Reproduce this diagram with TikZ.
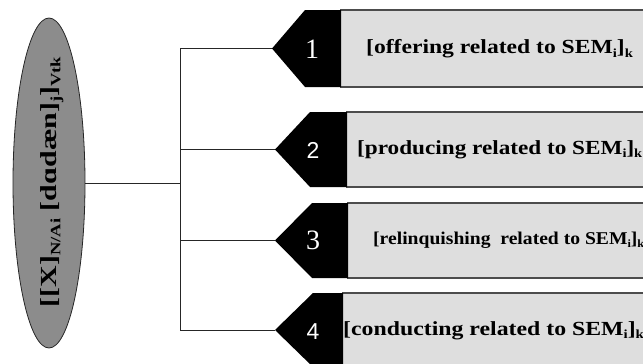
\documentclass[tikz,border=0pt]{standalone}
\usepackage{fontspec}
\usepackage{graphicx}
\setmainfont{Liberation Serif}
\newfontfamily\numsans{Liberation Sans}
\usetikzlibrary{shapes.geometric}
\newcommand{\lowsub}[1]{\raisebox{-0.35ex}{\scalebox{0.62}{#1}}}
\begin{document}
\begin{tikzpicture}[x=1pt,y=-1pt,
  conn/.style={draw=black!85, line width=1pt},
  boxfill/.style={fill=black!13},
  boxedge/.style={draw=black!70, line width=1.6pt},
  tag/.style={fill=black},
  numlbl/.style={text=white, inner sep=0pt},
  boxlbl/.style={anchor=west, inner sep=0pt, font=\bfseries}]
\useasboundingbox (0,0) rectangle (643,364);
\clip (0,0) rectangle (643,364);
\fill[white] (0,0) rectangle (643,364);

% root ellipse
\node[ellipse, draw=black!85, line width=0.8pt, fill=black!45, minimum width=72pt, minimum height=330pt, inner sep=0pt] (root) at (49,183) {};
\node[rotate=90, inner sep=0pt, font=\bfseries\fontsize{23}{23}\selectfont] (rootlbl) at (52,182) {\scalebox{1.3}[1]{[[X]\lowsub{N/Ai} [dɑdæn]\lowsub{j}]\lowsub{Vtk}}};

% boxes
\foreach \i/\ya/\yb/\tip/\cor/\blk in {1/10/87/272/305/340, 2/112/187/275/310/346, 3/203/278/275/312/347, 4/293/367/275/313/342}{
  \pgfmathsetmacro{\ym}{(\ya+\yb)/2}
  \fill[boxfill] (\blk,\ya) rectangle (660,\yb);
  \draw[boxedge] (\blk,\ya) -- (660,\ya);
  \draw[boxedge] (\blk,\yb) -- (660,\yb);
  \fill[tag] (\tip,\ym) -- (\cor,\ya) -- (\blk+1,\ya) -- (\blk+1,\yb) -- (\cor,\yb) -- cycle;
  \coordinate (t\i) at (\tip,\ym);
  \coordinate (b\i) at (180,\ym);
}

% numbers
\node[numlbl, font=\fontsize{28}{28}\selectfont] (n1) at (312,49) {1};
\node[numlbl, font=\numsans\fontsize{23}{23}\selectfont] (n2) at (313,150) {2};
\node[numlbl, font=\fontsize{28}{28}\selectfont] (n3) at (313,240) {3};
\node[numlbl, font=\numsans\fontsize{23}{23}\selectfont] (n4) at (313,332) {4};

% labels
\node[boxlbl, font=\bfseries\fontsize{20}{20}\selectfont] (l1) at (366,49) {\scalebox{1.18}[1]{[offering related to SEM\lowsub{i}]\lowsub{k}}};
\node[boxlbl, font=\bfseries\fontsize{20}{20}\selectfont] (l2) at (357,150) {\scalebox{1.16}[1]{[producing related to SEM\lowsub{i}]\lowsub{k}}};
\node[boxlbl, font=\bfseries\fontsize{18}{18}\selectfont] (l3) at (373,240) {\scalebox{1.09}[1]{[relinquishing\ \ related to SEM\lowsub{i}]\lowsub{k}}};
\node[boxlbl, font=\bfseries\fontsize{20}{20}\selectfont] (l4) at (343,331) {\scalebox{1.19}[1]{[conducting related to SEM\lowsub{i}]\lowsub{k}}};

% connectors
\coordinate (hub) at (180,183);
\draw[conn] (root.east) -- (hub);
\draw[conn] (b1) -- (b4);
\foreach \i in {1,2,3,4}{ \draw[conn] (b\i) -- (t\i); }
\end{tikzpicture}
\end{document}
